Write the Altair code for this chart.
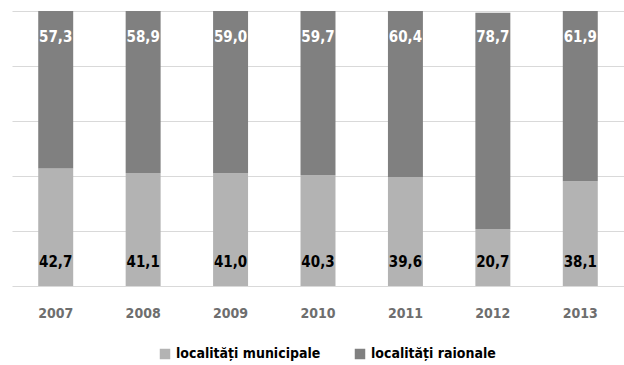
import altair as alt
import pandas as pd

years = ["2007", "2008", "2009", "2010", "2011", "2012", "2013"]
municipale = [42.7, 41.1, 41.0, 40.3, 39.6, 20.7, 38.1]
raionale = [57.3, 58.9, 59.0, 59.7, 60.4, 78.7, 61.9]
series_names = ["localități municipale", "localități raionale"]
colors = ["#b3b3b3", "#808080"]

rows = []
for i, y in enumerate(years):
    rows.append({"an": y, "serie": series_names[0], "val": municipale[i], "ord": 0,
                 "lbl": f"{municipale[i]:.1f}".replace(".", ",")})
    rows.append({"an": y, "serie": series_names[1], "val": raionale[i], "ord": 1,
                 "lbl": f"{raionale[i]:.1f}".replace(".", ",")})
df = pd.DataFrame(rows)

FONT = "'DejaVu Sans Condensed', 'Liberation Sans Narrow', 'Liberation Sans', sans-serif"

x_enc = alt.X("an:N", title=None, sort=years,
              scale=alt.Scale(paddingInner=0.6, paddingOuter=0.3),
              axis=alt.Axis(labelAngle=0, ticks=False, domain=False, labelPadding=20,
                            labelFont=FONT, labelFontSize=14, labelFontWeight="bold",
                            labelColor="#6e6e6e"))

bars = alt.Chart(df).mark_bar().encode(
    x=x_enc,
    y=alt.Y("val:Q", stack="zero", title=None,
            scale=alt.Scale(domain=[0, 100], nice=False),
            axis=alt.Axis(values=[0, 20, 40, 60, 80, 100], labels=False, ticks=False,
                          domain=False, grid=True, gridColor="#d9d9d9", gridWidth=1)),
    color=alt.Color("serie:N", sort=series_names,
                    scale=alt.Scale(domain=series_names, range=colors),
                    legend=alt.Legend(title=None, orient="none", direction="horizontal",
                                      legendX=146, legendY=336, symbolType="square",
                                      symbolSize=110, symbolStrokeWidth=0,
                                      labelFont=FONT, labelFontSize=14, labelFontWeight="bold",
                                      labelColor="#000000", columnPadding=32, labelOffset=4,
                                      labelLimit=300)),
    order=alt.Order("ord:Q"),
)

top_labels = alt.Chart(df[df["ord"] == 1]).mark_text(
    font=FONT, fontSize=15, fontWeight="bold", color="white", baseline="middle", dy=26
).encode(x=alt.X("an:N", sort=years), y=alt.datum(100), text="lbl:N")

bot_labels = alt.Chart(df[df["ord"] == 0]).mark_text(
    font=FONT, fontSize=15, fontWeight="bold", color="black", baseline="middle", dy=-24
).encode(x=alt.X("an:N", sort=years), y=alt.datum(0), text="lbl:N")

chart = alt.layer(bars, top_labels, bot_labels).properties(
    width=612, height=275,
    autosize=alt.AutoSizeParams(type="none"),
    padding={"left": 12, "top": 11, "right": 0, "bottom": 79},
    background="white",
).configure_view(stroke=None)

chart.save("out.html", embed_options={"renderer": "svg", "actions": False})
